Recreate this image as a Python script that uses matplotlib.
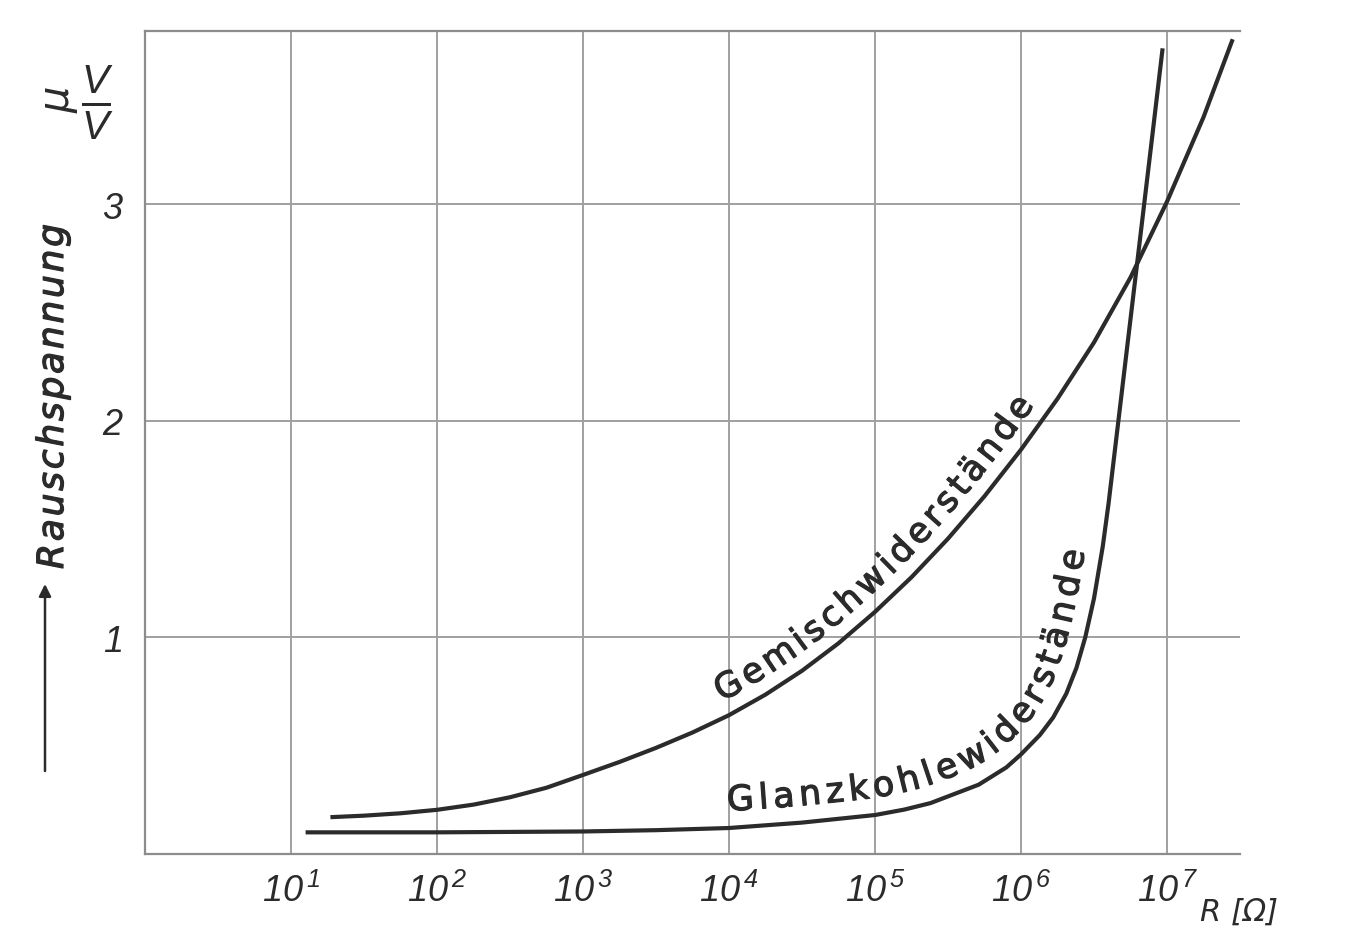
import numpy as np
import matplotlib
matplotlib.use("Agg")
import matplotlib.pyplot as plt
import matplotlib.patheffects as pe
from matplotlib.transforms import IdentityTransform
from matplotlib.ticker import NullLocator

# ---------------- data ----------------
x_tick_exponents = [1, 2, 3, 4, 5, 6, 7]
y_ticks = [1, 2, 3]
y_tick_labels = ["1", "2", "3"]

# Gemischwiderstände: log10(R / Ohm) and noise voltage (µV/V)
gemisch_log_r = [1.27, 1.5, 1.75, 2.0, 2.25, 2.5, 2.75, 3.0, 3.25, 3.5, 3.75, 4.0,
                 4.25, 4.5, 4.75, 5.0, 5.25, 5.5, 5.75, 6.0, 6.25, 6.5, 6.75,
                 7.0, 7.25, 7.45]
gemisch_u = [0.170, 0.177, 0.188, 0.204, 0.228, 0.262, 0.306, 0.365, 0.425, 0.49,
             0.561, 0.641, 0.736, 0.846, 0.973, 1.118, 1.278, 1.456, 1.652, 1.867,
             2.102, 2.362, 2.662, 3.012, 3.402, 3.762]

# Glanzkohlewiderstände
glanz_log_r = [1.1, 2.0, 3.0, 3.5, 4.0, 4.5, 5.0, 5.2, 5.38, 5.71, 5.9, 6.0, 6.13,
               6.22, 6.31, 6.38, 6.44, 6.5, 6.56, 6.6, 6.66, 6.72, 6.78, 6.84,
               6.9, 6.97]
glanz_u = [0.100, 0.100, 0.104, 0.110, 0.12, 0.145, 0.18, 0.205, 0.235, 0.32,
           0.40, 0.46, 0.55, 0.63, 0.74, 0.86, 1.0, 1.18, 1.42, 1.62, 1.96, 2.30,
           2.64, 2.98, 3.32, 3.72]

label_gemisch = "Gemischwiderstände"
label_glanz = "Glanzkohlewiderstände"
y_label = "Rauschspannung"
x_unit = "R [Ω]"

# ---------------- styling ----------------
plt.rcParams["font.family"] = ["DejaVu Sans"]
plt.rcParams["mathtext.fontset"] = "custom"
plt.rcParams["mathtext.it"] = "Liberation Sans:italic"
plt.rcParams["mathtext.rm"] = "Liberation Sans:italic"
plt.rcParams["mathtext.default"] = "it"

INK = "#2b2b2b"
GRID = "#a0a0a0"
SPINE = "#8c8c8c"
thick = [pe.withStroke(linewidth=0.9, foreground=INK)]

W, H = 1351, 928
fig = plt.figure(figsize=(W / 100, H / 100), dpi=100)
fig.patch.set_facecolor("white")
ax = fig.add_axes([145 / W, 73 / H, 1095 / W, 823 / H])
ax.set_xscale("log")
ax.set_xlim(1, 10 ** 7.5)
ax.set_ylim(0, 3.80)

ax.set_xticks([10.0 ** e for e in x_tick_exponents])
ax.set_xticklabels([r"$10^{\,%d}$" % e for e in x_tick_exponents])
ax.xaxis.set_minor_locator(NullLocator())
ax.set_yticks(y_ticks)
ax.set_yticklabels(y_tick_labels, fontstyle="italic", family="Liberation Sans")
ax.tick_params(axis="both", length=0, labelsize=26, colors=INK)
ax.tick_params(axis="x", pad=13)
ax.tick_params(axis="y", pad=16)
ax.grid(True, color=GRID, lw=1.4)
ax.set_axisbelow(True)
ax.spines["right"].set_visible(False)
for s in ["top", "left", "bottom"]:
    ax.spines[s].set_color(SPINE)
    ax.spines[s].set_linewidth(1.6)

# curves
g_r = 10.0 ** np.array(gemisch_log_r)
k_r = 10.0 ** np.array(glanz_log_r)
ax.plot(g_r, gemisch_u, color=INK, lw=3.0, solid_capstyle="butt",
        solid_joinstyle="round", clip_on=False)
ax.plot(k_r, glanz_u, color=INK, lw=3.0, solid_capstyle="butt",
        solid_joinstyle="round", clip_on=False)

fig.canvas.draw()
renderer = fig.canvas.get_renderer()


def text_on_curve(xd, yd, text, start_logx, offset, size, target_len, style="normal"):
    """Place characters along the (display-space) curve, offset along its normal."""
    d = ax.transData.transform(np.column_stack([xd, yd]))
    seg = np.hypot(np.diff(d[:, 0]), np.diff(d[:, 1]))
    s = np.concatenate([[0], np.cumsum(seg)])
    ss = np.arange(0, s[-1], 1.0)
    px = np.interp(ss, s, d[:, 0])
    py = np.interp(ss, s, d[:, 1])
    k = 41
    ker = np.ones(k) / k
    pxs = np.convolve(np.pad(px, k // 2, mode="edge"), ker, mode="valid")
    pys = np.convolve(np.pad(py, k // 2, mode="edge"), ker, mode="valid")
    tx = np.gradient(pxs)
    ty = np.gradient(pys)
    n = np.hypot(tx, ty)
    tx, ty = tx / n, ty / n
    ox = pxs - ty * offset
    oy = pys + tx * offset
    ang = np.degrees(np.unwrap(np.arctan2(ty, tx)))
    os_ = np.concatenate([[0], np.cumsum(np.hypot(np.diff(ox), np.diff(oy)))])
    x_start = ax.transData.transform((10 ** start_logx, 0))[0]
    i0 = int(np.argmin(np.abs(ox - x_start)))
    s0 = os_[i0]
    widths = []
    for ch in text:
        t = ax.text(0, 0, ch, fontsize=size, fontstyle=style, transform=IdentityTransform())
        widths.append(t.get_window_extent(renderer).width)
        t.remove()
    extra = (target_len - sum(widths)) / (len(text) - 1)
    pos = s0
    for ch, w in zip(text, widths):
        c = pos + w / 2
        x = np.interp(c, os_, ox)
        y = np.interp(c, os_, oy)
        a = np.interp(c, os_, ang)
        ax.text(x, y, ch, fontsize=size, fontstyle=style, color=INK,
                transform=IdentityTransform(), rotation=a,
                rotation_mode="anchor", ha="center", va="baseline",
                path_effects=thick)
        pos += w + extra


text_on_curve(g_r, gemisch_u, label_gemisch, 3.95, 15, 25, 435)
text_on_curve(k_r, glanz_u, label_glanz, 3.99, 17, 25, 505)

# y label, letter-spaced along a vertical line
ylab_widths = []
for ch in y_label:
    t = fig.text(0, 0, ch, fontsize=26, fontstyle="italic")
    ylab_widths.append(t.get_window_extent(renderer).width)
    t.remove()
ylab_len = 345
extra = (ylab_len - sum(ylab_widths)) / (len(y_label) - 1)
pos = 0.0
y_bottom_px = H - 570
for ch, w in zip(y_label, ylab_widths):
    c = pos + w / 2
    fig.text(63 / W, (y_bottom_px + c) / H, ch, fontsize=26, fontstyle="italic",
             color=INK, rotation=90, rotation_mode="anchor",
             ha="center", va="baseline", path_effects=thick)
    pos += w + extra

# arrow
ax.annotate("", xy=(45 / W, (H - 585) / H), xytext=(45 / W, (H - 772) / H),
            xycoords="figure fraction", textcoords="figure fraction",
            arrowprops=dict(arrowstyle="-|>", color=INK, lw=1.8,
                            mutation_scale=18, shrinkA=0, shrinkB=0))

# unit µ V/V
fig.text(58 / W, (H - 100) / H, "µ", fontsize=30, fontstyle="italic", color=INK,
         rotation=90, ha="center", va="center")
fig.text(97 / W, (H - 103) / H, r"$\frac{V}{V}$", fontsize=42, color=INK,
         ha="center", va="center")

# x unit
fig.text(1200 / W, 1 / H, x_unit, fontsize=22, fontstyle="italic",
         color=INK, ha="left", va="bottom")

fig.savefig("out.png", dpi=100, facecolor="white")
